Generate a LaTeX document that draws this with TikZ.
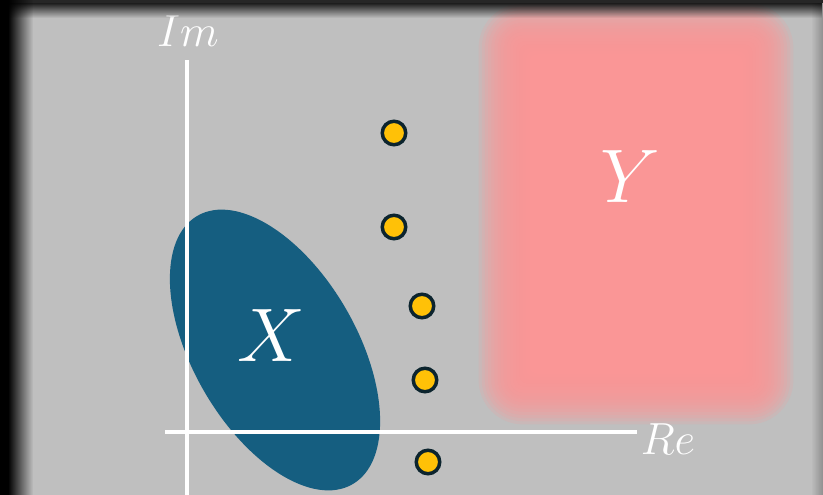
\RequirePackage{fix-cm}
\documentclass[tikz,border=0pt]{standalone}
\usetikzlibrary{fadings}
\tikzfading[name=fadetoright, left color=transparent!0, right color=transparent!100]
\tikzfading[name=fadetoleft, left color=transparent!100, right color=transparent!0]
\tikzfading[name=fadetobottom, top color=transparent!0, bottom color=transparent!100]
\definecolor{bgc}{RGB}{191,191,191}
\definecolor{pinkc}{RGB}{255,150,150}
\definecolor{ellc}{RGB}{21,94,128}
\definecolor{dotfill}{RGB}{255,193,7}
\definecolor{dotline}{RGB}{12,36,46}
\tikzset{
  dotnode/.style={circle, inner sep=0pt, minimum size=23.5pt, line width=3.5pt, draw=dotline, fill=dotfill},
  axisline/.style={white, line width=3.5pt},
  biglabel/.style={text=white, inner sep=0pt, font=\fontsize{76}{80}\selectfont},
  axlabel/.style={text=white, inner sep=0pt, font=\fontsize{45}{50}\selectfont}
}
\begin{document}
\begin{tikzpicture}[x=1pt,y=-1pt]
\useasboundingbox (0,0) rectangle (823,495);
\fill[bgc] (0,0) rectangle (823,495);
% blurred pink rectangle
\foreach \i in {0,...,23}{
  \pgfmathsetmacro\d{38*(1-2*(\i+0.5)/24)}
  \pgfmathsetmacro\rc{max(\d,0)+8}
  \fill[pinkc, opacity=0.17, rounded corners=\rc pt] (515-\d,40-\d) rectangle (757+\d,388+\d);
}
% ellipse
\fill[ellc, rotate around={-60:(275,350)}] (275,350) ellipse [x radius=155, y radius=82];
% axes
\coordinate (ytop) at (187,60);
\coordinate (ybot) at (187,495);
\coordinate (xl) at (165,432);
\coordinate (xr) at (637,432);
\draw[axisline] (ybot) -- (ytop);
\draw[axisline] (xl) -- (xr);
\node[axlabel] (im) at (188,31) {$Im$};
\node[axlabel] (re) at (668,439) {$Re$};
\node[biglabel] (X) at (271,336) {$X$};
\node[biglabel] (Y) at (630,177) {$Y$};
% dots
\node[dotnode] (d1) at (394,133) {};
\node[dotnode] (d2) at (394,227) {};
\node[dotnode] (d3) at (422,306) {};
\node[dotnode] (d4) at (425,380) {};
\node[dotnode] (d5) at (428,462) {};
% vignette
\fill[black, opacity=0.25, path fading=fadetoleft] (811,0) rectangle (823,495);
\fill[black, opacity=0.85, path fading=fadetobottom] (0,3) rectangle (823,18);
\fill[black!85] (0,0) rectangle (823,3);
\fill[black, path fading=fadetoright] (8,0) rectangle (33,495);
\fill[black] (0,0) rectangle (8,495);
\end{tikzpicture}
\end{document}
